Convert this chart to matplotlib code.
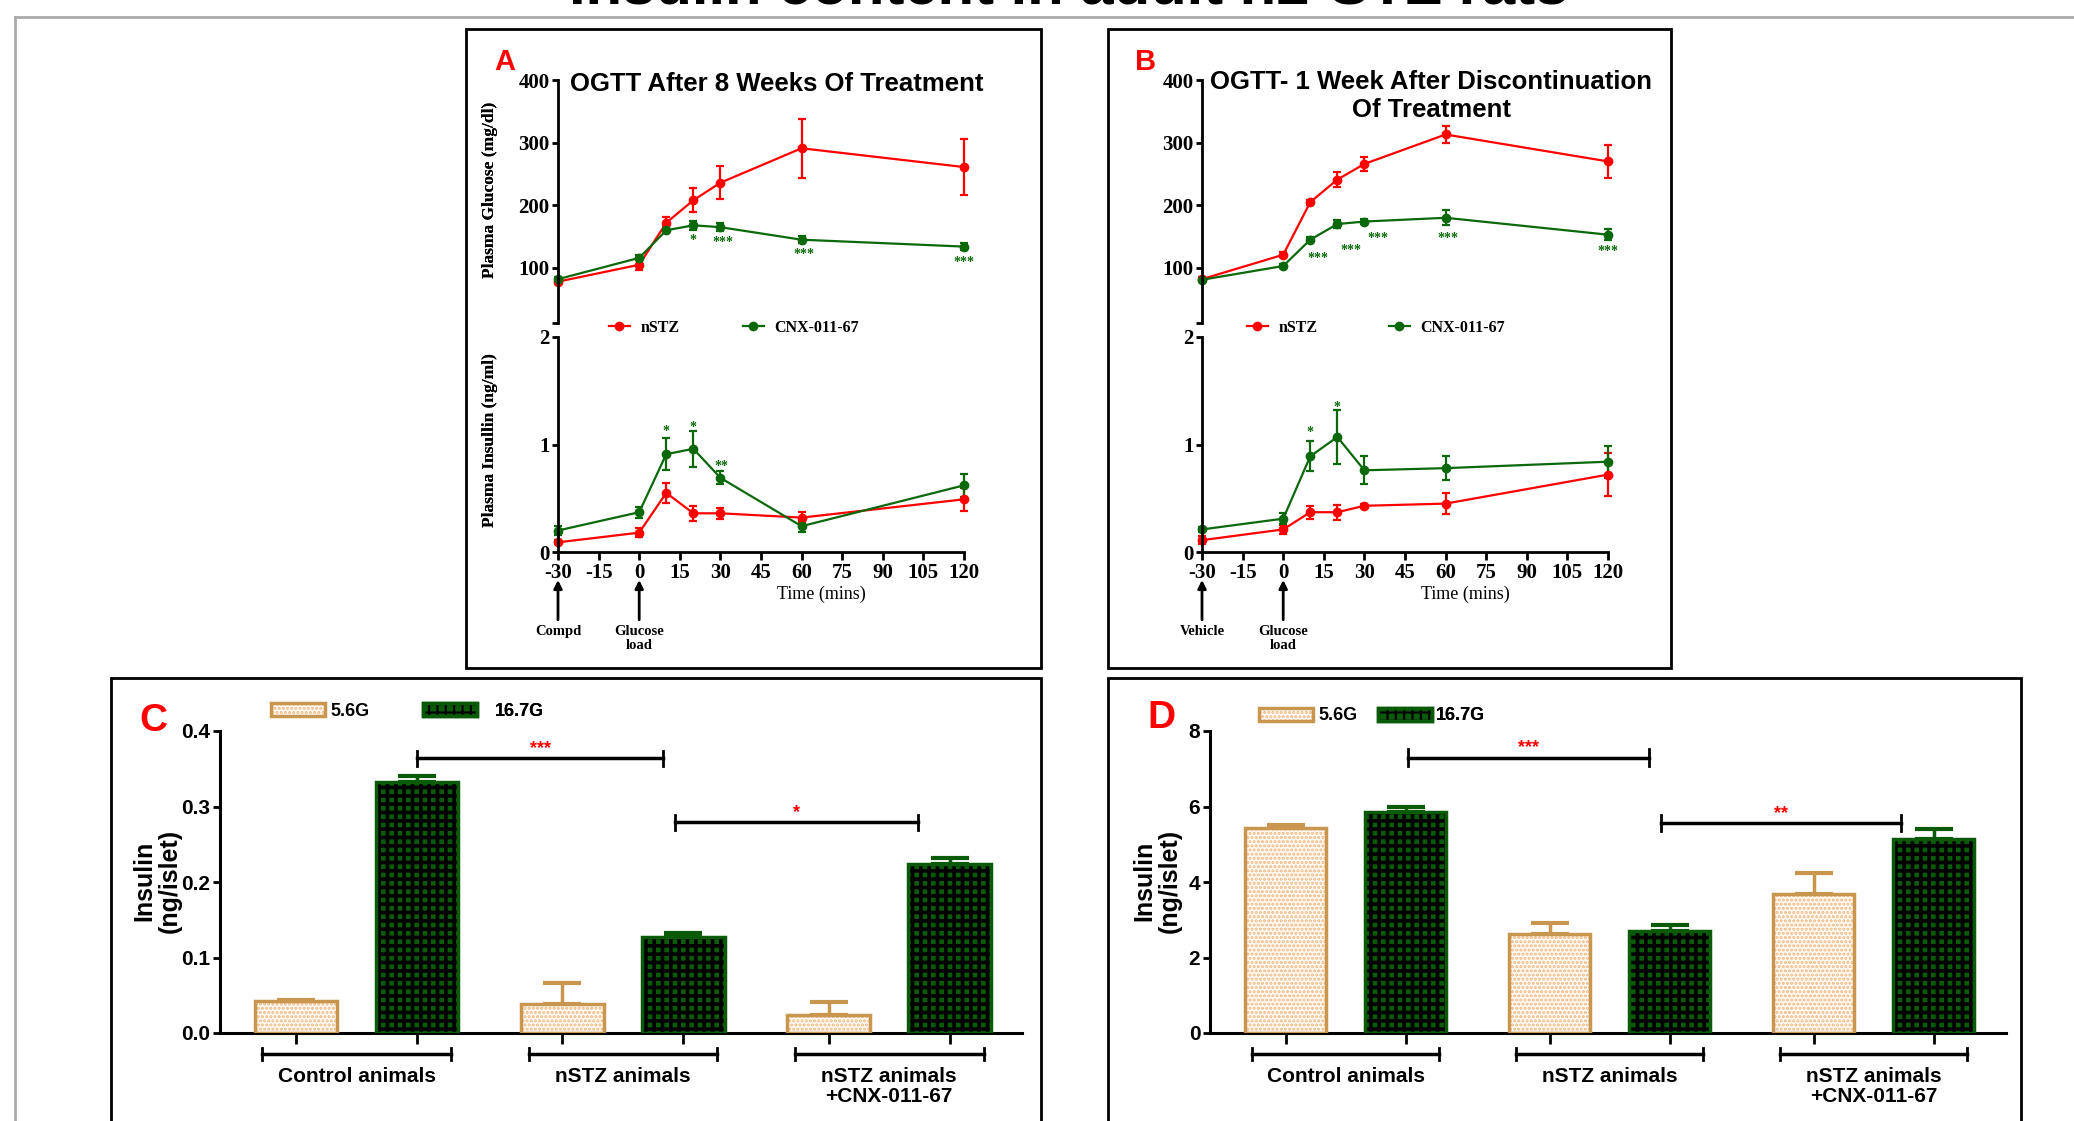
import matplotlib
matplotlib.use('Agg')
import numpy as np
import matplotlib.pyplot as plt
from matplotlib.patches import Rectangle, Patch
from matplotlib.lines import Line2D
from matplotlib.legend_handler import HandlerTuple

plt.rcParams['font.family'] = ['Liberation Serif', 'DejaVu Serif']
plt.rcParams['font.weight'] = 'bold'
plt.rcParams['axes.unicode_minus'] = False
plt.rcParams['hatch.linewidth'] = 1.5

W, H = 2074, 1121
SANS = 'Liberation Sans'
RED = '#ff0000'
GREEN = '#0b680b'
TAN = '#c8964f'
DOT = '#f2b983'
DKGREEN = '#0a5a0a'

# ---------------- data: OGTT (A, B) ----------------
time = [-30, 0, 10, 20, 30, 60, 120]
time_ticks = [-30, -15, 0, 15, 30, 45, 60, 75, 90, 105, 120]

a_glu_nstz = [78, 105, 172, 208, 236, 291, 261]
a_glu_nstz_err = [3, 8, 10, 19, 26, 47, 45]
a_glu_cnx = [82, 116, 160, 168, 165, 145, 134]
a_glu_cnx_err = [3, 4, 5, 7, 6, 6, 5]
a_ins_nstz = [0.09, 0.18, 0.55, 0.36, 0.36, 0.32, 0.49]
a_ins_nstz_err = [0.02, 0.04, 0.09, 0.07, 0.05, 0.05, 0.11]
a_ins_cnx = [0.20, 0.37, 0.91, 0.96, 0.69, 0.24, 0.62]
a_ins_cnx_err = [0.04, 0.05, 0.15, 0.17, 0.06, 0.05, 0.11]

b_glu_nstz = [82, 121, 205, 241, 266, 313, 270]
b_glu_nstz_err = [3, 4, 4, 12, 11, 14, 27]
b_glu_cnx = [81, 103, 145, 170, 174, 180, 153]
b_glu_cnx_err = [3, 3, 4, 6, 4, 12, 9]
b_ins_nstz = [0.11, 0.21, 0.37, 0.37, 0.43, 0.45, 0.72]
b_ins_nstz_err = [0.04, 0.04, 0.06, 0.07, 0.02, 0.095, 0.2]
b_ins_cnx = [0.21, 0.31, 0.89, 1.07, 0.76, 0.78, 0.84]
b_ins_cnx_err = [0.02, 0.05, 0.14, 0.25, 0.13, 0.11, 0.15]

# significance marks (x, y centre, label)
a_glu_stars = [(20, 149, '*'), (31, 146, '***'), (61, 127, '***'), (120, 114, '***')]
a_ins_stars = [(10, 1.15, '*'), (20, 1.19, '*'), (30.5, 0.825, '**')]
b_glu_stars = [(13, 120, '***'), (25, 134, '***'), (35, 153, '***'), (61, 153, '***'), (120, 131, '***')]
b_ins_stars = [(10, 1.14, '*'), (20, 1.38, '*')]

# ---------------- data: islet insulin (C, D) ----------------
groups = ['Control animals', 'nSTZ animals', 'nSTZ animals\n+CNX-011-67']
series = ['5.6G', '16.7G']
c_low = [0.042, 0.039, 0.024]
c_low_err = [0.002, 0.027, 0.017]
c_high = [0.333, 0.127, 0.224]
c_high_err = [0.0075, 0.005, 0.008]
d_low = [5.42, 2.63, 3.67]
d_low_err = [0.10, 0.29, 0.56]
d_high = [5.86, 2.71, 5.13]
d_high_err = [0.12, 0.16, 0.27]

c_sig = [(1.0, 3.03, 0.364, '***'), (3.13, 5.14, 0.279, '*')]
d_sig = [(1.02, 3.03, 7.29, '***'), (3.13, 5.13, 5.56, '**')]


def rect(x0, y0, x1, y1):
    return [x0 / W, 1 - y1 / H, (x1 - x0) / W, (y1 - y0) / H]


fig = plt.figure(figsize=(W / 100, H / 100), dpi=100)

# slide decoration + clipped slide title
fig.add_artist(Line2D([15 / W, 1], [1 - 17 / H] * 2, transform=fig.transFigure, color='#aaaaaa', lw=2))
fig.add_artist(Line2D([15 / W, 15 / W], [0, 1 - 17 / H], transform=fig.transFigure, color='#aaaaaa', lw=2))
fig.text(1069 / W, 1 - 4 / H, 'Insulin content in adult n2-STZ rats', family=SANS,
         fontsize=43, ha='center', va='baseline')

# panel frames
for x0, y0, x1, y1 in [(466, 29, 1041, 668), (1108, 29, 1671, 668),
                       (111, 678, 1041, 1135), (1108, 678, 2021, 1135)]:
    fig.add_artist(Rectangle((x0 / W, 1 - y1 / H), (x1 - x0) / W, (y1 - y0) / H,
                             transform=fig.transFigure, fill=False, ec='black', lw=2))


def style_ticks(ax):
    ax.tick_params(direction='out', width=2, length=6, labelsize=15, pad=2)
    for s in ax.spines.values():
        s.set_linewidth(2)


def stars(ax, marks):
    for x, y, lab in marks:
        ax.annotate(lab, (x, y), xytext=(0, -5), textcoords='offset points', ha='center',
                    va='baseline', color=GREEN, fontsize=10, annotation_clip=False)


def ogtt(left, right, letter, title, title_xy, leg_xy, colsp, event_labels,
         glu_n, glu_ne, glu_c, glu_ce, ins_n, ins_ne, ins_c, ins_ce, gstars, istars):
    axg = fig.add_axes(rect(left, 80, right, 323))
    axi = fig.add_axes(rect(left, 337, right, 552))
    kw = dict(fmt='-o', ms=6, lw=1.6, elinewidth=1.6, capsize=3, capthick=1.6, clip_on=False)
    en = axg.errorbar(time, glu_n, yerr=glu_ne, color=RED, **kw)
    ec = axg.errorbar(time, glu_c, yerr=glu_ce, color=GREEN, **kw)
    axi.errorbar(time, ins_n, yerr=ins_ne, color=RED, **kw)
    axi.errorbar(time, ins_c, yerr=ins_ce, color=GREEN, **kw)

    axg.set_xlim(-30, 120)
    axg.set_ylim(12, 400)
    axg.set_yticks([12, 100, 200, 300, 400], ['', '100', '200', '300', '400'])
    axg.set_xticks([])
    for s in ['top', 'right', 'bottom']:
        axg.spines[s].set_visible(False)
    style_ticks(axg)
    axg.tick_params(length=4)

    axi.set_xlim(-30, 120)
    axi.set_ylim(0, 2)
    axi.set_yticks([0, 1, 2])
    axi.set_xticks(time_ticks)
    for s in ['top', 'right']:
        axi.spines[s].set_visible(False)
    style_ticks(axi)
    axi.tick_params(axis='y', length=4)
    axi.set_xlabel('Time (mins)', fontsize=13)
    axi.xaxis.set_label_coords(0.648, -0.155)

    lx = (490 - left) / (right - left)
    axg.text(lx, 0.547, 'Plasma Glucose (mg/dl)', transform=axg.transAxes, rotation=90,
             ha='center', va='center', fontsize=12.5)
    axi.text(lx, 0.52, 'Plasma Insullin (ng/ml)', transform=axi.transAxes, rotation=90,
             ha='center', va='center', fontsize=12.5)

    stars(axg, gstars)
    stars(axi, istars)

    axg.legend([en[0], ec[0]], ['nSTZ', 'CNX-011-67'], loc='center left',
               bbox_to_anchor=(leg_xy[0] / W, 1 - leg_xy[1] / H), bbox_transform=fig.transFigure,
               ncol=2, frameon=False, borderpad=0, borderaxespad=0, fontsize=11.5,
               handlelength=1.3, handletextpad=0.65, columnspacing=colsp, numpoints=1)

    tr = axi.get_xaxis_transform()
    for x, lab in zip([-30, 0], event_labels):
        axi.annotate('', xy=(x, -0.13), xycoords=tr, xytext=(x, -0.315), textcoords=tr,
                     arrowprops=dict(arrowstyle='-|>', color='black', lw=2, mutation_scale=12,
                                     shrinkA=0, shrinkB=0), annotation_clip=False)
        axi.text(x, -0.34, lab, transform=tr, ha='center', va='top', fontsize=10.5,
                 linespacing=1.05)

    fig.text(title_xy[0] / W, 1 - title_xy[1] / H, title, family=SANS, fontsize=18.5,
             ha='center', va='center', linespacing=1.25)
    fig.text(letter[1] / W, 1 - letter[2] / H, letter[0], family=SANS, fontsize=21,
             color=RED, ha='center', va='center')


ogtt(558, 964, ('A', 505, 62), 'OGTT After 8 Weeks Of Treatment', (777, 84), (609, 328), 4.0,
     ['Compd', 'Glucose\nload'],
     a_glu_nstz, a_glu_nstz_err, a_glu_cnx, a_glu_cnx_err,
     a_ins_nstz, a_ins_nstz_err, a_ins_cnx, a_ins_cnx_err, a_glu_stars, a_ins_stars)
ogtt(1202, 1608, ('B', 1146, 62), 'OGTT- 1 Week After Discontinuation\nOf Treatment', (1431, 96),
     (1247, 328), 4.5, ['Vehicle', 'Glucose\nload'],
     b_glu_nstz, b_glu_nstz_err, b_glu_cnx, b_glu_cnx_err,
     b_ins_nstz, b_ins_nstz_err, b_ins_cnx, b_ins_cnx_err, b_glu_stars, b_ins_stars)


def bar_panel(left, letter, low, low_err, high, high_err, ymax, yticks, ylabs, sig, cap,
              leg_x, leg_y, leg_pad, ylab_x):
    x_lo, x_hi = -0.63, 6.0
    unit = 121 if left < 1000 else 120
    x0 = left + 0.63 * unit
    ax = fig.add_axes(rect(left, 731, x0 + x_hi * unit, 1033))
    gx = np.arange(len(groups)) * 2.2
    p_lo, p_hi = gx, gx + 1
    bw = 0.68
    zeros = np.zeros(len(groups))

    with plt.rc_context({'hatch.linewidth': 1.5}):
        ax.bar(p_lo, low, bw, facecolor='#fffaf3', edgecolor=DOT, hatch='....', lw=0, zorder=2)
        h_lo_fill = Patch(facecolor='#fffaf3', edgecolor=DOT, hatch='....', lw=0)
    with plt.rc_context({'hatch.linewidth': 2.6}):
        ax.bar(p_hi, high, bw, facecolor=DKGREEN, edgecolor='black', hatch='++', lw=0, zorder=2)
        h_hi_fill = Patch(facecolor=DKGREEN, edgecolor='black', hatch='++', lw=0)
    ax.bar(p_lo, low, bw, fill=False, edgecolor=TAN, lw=2.5, zorder=3)
    ax.bar(p_hi, high, bw, fill=False, edgecolor=DKGREEN, lw=2.5, zorder=3)
    ax.errorbar(p_lo, low, yerr=[zeros, low_err], fmt='none', ecolor=TAN, elinewidth=2.5,
                capsize=14, capthick=3, zorder=1)
    ax.errorbar(p_hi, high, yerr=[zeros, high_err], fmt='none', ecolor=DKGREEN, elinewidth=2.5,
                capsize=14, capthick=3, zorder=1)

    ax.set_xlim(x_lo, x_hi)
    ax.set_ylim(0, ymax)
    ax.set_yticks(yticks, ylabs)
    ax.set_xticks(np.concatenate([p_lo, p_hi]), [])
    for s in ['top', 'right']:
        ax.spines[s].set_visible(False)
    for s in ax.spines.values():
        s.set_linewidth(2.2)
    ax.tick_params(axis='y', direction='out', width=2, length=5, labelsize=15, pad=2)
    ax.tick_params(axis='x', direction='out', width=2, length=8)
    for t in ax.get_yticklabels():
        t.set_family(SANS)

    for xa, xb, lvl, lab in sig:
        ax.plot([xa, xb], [lvl, lvl], color='black', lw=2.5, clip_on=False)
        ax.plot([xa, xa], [lvl - cap, lvl + cap], color='black', lw=2, clip_on=False)
        ax.plot([xb, xb], [lvl - cap, lvl + cap], color='black', lw=2, clip_on=False)
        ax.annotate(lab, ((xa + xb) / 2, lvl), xytext=(0, 1), textcoords='offset points',
                    ha='center', va='bottom', color=RED, fontsize=13, family=SANS)

    tr = ax.get_xaxis_transform()
    for g, name in zip(gx + 0.5, groups):
        ax.plot([g - 0.78, g + 0.78], [-0.0695, -0.0695], transform=tr, color='black', lw=2.5,
                clip_on=False)
        for e in (g - 0.78, g + 0.78):
            ax.plot([e, e], [-0.0895, -0.0495], transform=tr, color='black', lw=2, clip_on=False)
        ax.text(g, -0.112, name, transform=tr, ha='center', va='top', family=SANS, fontsize=15,
                linespacing=1.1)

    ax.text((ylab_x - left) / ((x_hi - x_lo) * unit), 0.505, 'Insulin\n(ng/islet)',
            transform=ax.transAxes, rotation=90, ha='center', va='center', family=SANS,
            fontsize=18, linespacing=1.05)

    handles = [(h_lo_fill, Patch(fill=False, edgecolor=TAN, lw=2.5)),
               (h_hi_fill, Patch(fill=False, edgecolor=DKGREEN, lw=2.5))]
    for h, lab, lx, pad in zip(handles, series, leg_x, leg_pad):
        leg = ax.legend([h], [lab], handler_map={tuple: HandlerTuple(ndivide=1, pad=0)},
                        loc='center left', bbox_to_anchor=(lx / W, 1 - leg_y / H),
                        bbox_transform=fig.transFigure, frameon=False, borderpad=0,
                        borderaxespad=0, prop={'family': SANS, 'weight': 'bold', 'size': 13},
                        handlelength=3.0, handleheight=0.7, handletextpad=pad)
        ax.add_artist(leg)

    fig.text(letter[1] / W, 1 - letter[2] / H, letter[0], family=SANS, fontsize=28, color=RED,
             ha='center', va='center')


bar_panel(220, ('C', 153, 721), c_low, c_low_err, c_high, c_high_err, 0.4,
          [0, 0.1, 0.2, 0.3, 0.4], ['0.0', '0.1', '0.2', '0.3', '0.4'], c_sig, 0.01,
          (271, 423), 711, (0.3, 1.0), 157)
bar_panel(1210, ('D', 1161, 718), d_low, d_low_err, d_high, d_high_err, 8,
          [0, 2, 4, 6, 8], ['0', '2', '4', '6', '8'], d_sig, 0.22,
          (1259, 1378), 716, (0.3, 0.18), 1157)

fig.savefig('out.png', dpi=100)
